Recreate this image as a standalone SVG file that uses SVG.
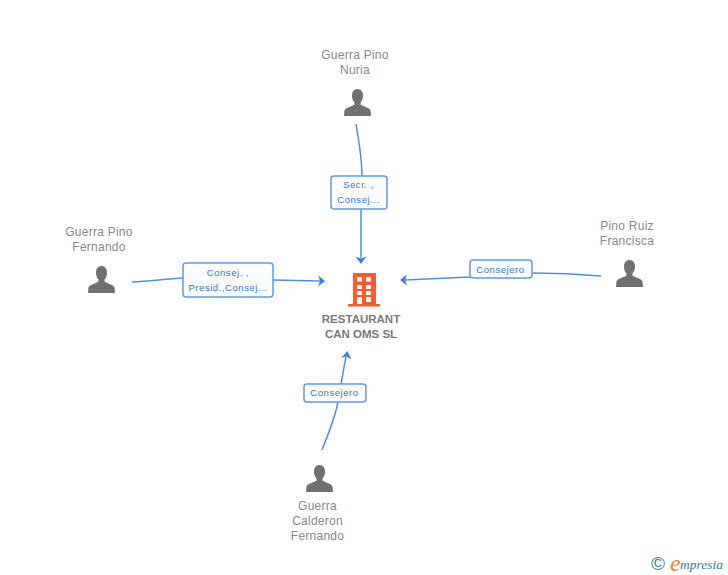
<svg xmlns="http://www.w3.org/2000/svg" width="728" height="575" viewBox="0 0 728 575">
<style>
.n{font:12px "Liberation Sans",Arial,sans-serif;fill:#888;text-anchor:middle;letter-spacing:.25px}
.c{font:bold 11.500px "Liberation Sans",Arial,sans-serif;fill:#7a7a7a;text-anchor:middle}
.l{font:9.500px "Liberation Sans",Arial,sans-serif;fill:#2f78e4;text-anchor:middle;letter-spacing:.55px}
.e{fill:none;stroke:#4f8dea;stroke-width:1.500}
.b{fill:#fbfcfe;stroke:#5f9aea;stroke-width:1.500}
.h{fill:#3f7fe0}
.p{fill:#707070}
</style>
<defs>
<symbol id="person" viewBox="0 0 27 27" width="27" height="27">
<path d="M13.500 0C9.800 0 8 3 8 6.500C8 9.500 9 12 10.500 13.500V15.500C8 17.500 1.500 18.500 0.500 21.500L0 27H27L26.500 21.500C25.500 18.500 19 17.500 16.500 15.500V13.500C18 12 19 9.500 19 6.500C19 3 17.200 0 13.500 0Z"/>
</symbol>
</defs>
<g id="connectors">
<path class="e" d="M356 124C359 142 362 158 362 176"/>
<path class="e" d="M361 209V258"/>
<path class="h" d="M355.500 256.500L361 258.500L366.500 256.500L361 264Z"/>
<path class="e" d="M132 282C150 281 166 279 183 278"/>
<path class="e" d="M273 280L320 281"/>
<path class="h" d="M318 275.500L320 281L318 286.500L325 281Z"/>
<path class="e" d="M601 276C578 274 556 273 532 273"/>
<path class="e" d="M470 277C448 278 425 279 405 280"/>
<path class="h" d="M407 274.500L405 280L407 285.500L400 280Z"/>
<path class="e" d="M322 450C329 432 335 418 338 402"/>
<path class="e" d="M341 384C343 374 344 366 346 357"/>
<path class="h" d="M341 358L346.500 356.500L351.500 359.500L347.500 351Z"/>
</g>
<g id="node-center">
<path fill="#ff5a2e" fill-rule="evenodd" d="M353 273H376V304H380V306.500H348V304H353ZM357 277V281.500H362V277ZM366 277V281.500H371V277ZM357 285V289H362V285ZM366 285V289H371V285ZM357 291V295H362V291ZM366 291V295H371V291ZM357 297V304H362V297ZM366 297V302H371V297Z"/>
<text class="c" x="361" y="323">RESTAURANT</text>
<text class="c" x="361" y="338">CAN OMS SL</text>
</g>
<g id="node-nuria">
<text class="n" x="355" y="59">Guerra Pino</text>
<text class="n" x="355" y="74">Nuria</text>
<use href="#person" class="p" x="344" y="89"/>
</g>
<g id="node-fernando">
<text class="n" x="99" y="236">Guerra Pino</text>
<text class="n" x="99" y="251">Fernando</text>
<use href="#person" class="p" x="88" y="266"/>
</g>
<g id="node-francisca">
<text class="n" x="627" y="230">Pino Ruiz</text>
<text class="n" x="627" y="245">Francisca</text>
<use href="#person" class="p" x="616" y="260"/>
</g>
<g id="node-calderon">
<use href="#person" class="p" x="306" y="465"/>
<text class="n" x="317.500" y="510">Guerra</text>
<text class="n" x="317.500" y="525">Calderon</text>
<text class="n" x="317.500" y="540">Fernando</text>
</g>
<g id="label-nuria">
<rect class="b" x="331" y="176" width="56" height="33" rx="3"/>
<text class="l" x="358.500" y="188">Secr. ,</text>
<text class="l" x="358.500" y="203">Consej...</text>
</g>
<g id="label-fernando">
<rect class="b" x="183" y="263" width="90" height="34" rx="3"/>
<text class="l" x="228" y="276">Consej. ,</text>
<text class="l" x="228" y="291">Presid.,Consej...</text>
</g>
<g id="label-francisca">
<rect class="b" x="470" y="260" width="62" height="18" rx="3"/>
<text class="l" x="500.500" y="273">Consejero</text>
</g>
<g id="label-calderon">
<rect class="b" x="304" y="384" width="62" height="18" rx="3"/>
<text class="l" x="334.500" y="396">Consejero</text>
</g>
<g id="brand">
<text x="658" y="570" font-family="'Liberation Sans',sans-serif" font-size="19" fill="#3f7f96" text-anchor="middle">©</text>
<text x="670" y="571" font-family="'Liberation Serif',serif" font-style="italic" font-size="24" fill="#f0851a">e</text>
<text x="680" y="569" font-family="'Liberation Serif',serif" font-style="italic" font-size="13.500" fill="#2f7f96">mpresia</text>
</g>
</svg>
